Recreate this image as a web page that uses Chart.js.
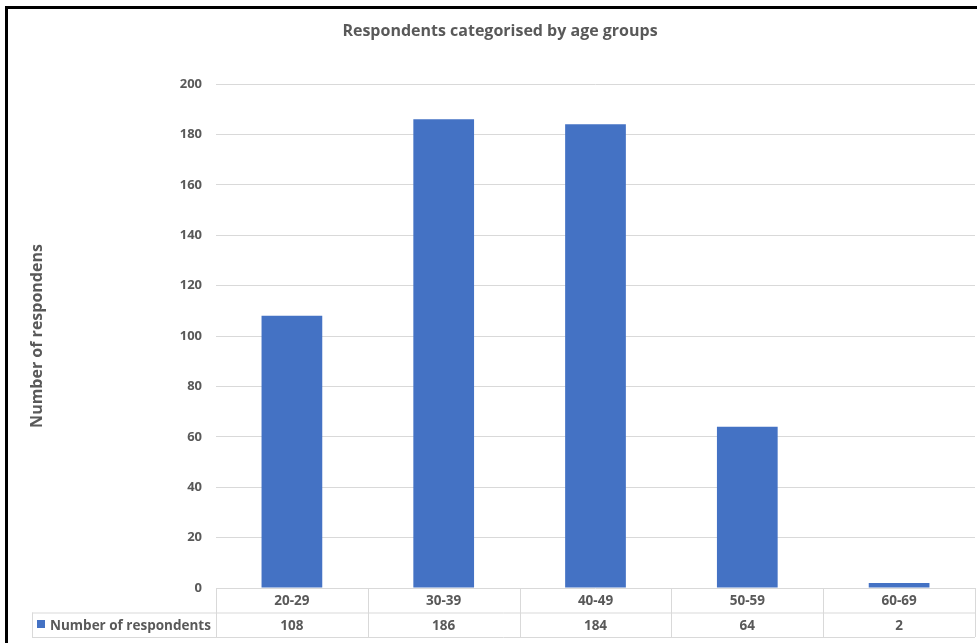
<!DOCTYPE html>
<html>
<head>
<meta charset="utf-8">
<script src="https://cdn.jsdelivr.net/npm/chart.js@4.4.0/dist/chart.umd.min.js"></script>
<style>
  html, body { margin: 0; padding: 0; background: #fff; }
  #wrap { width: 980px; height: 643px; position: relative; }
</style>
</head>
<body>
<div id="wrap"><canvas id="ageChart" width="980" height="643"></canvas></div>
<script>
'use strict';

// age groups and respondent counts
const ageGroups = ['20-29', '30-39', '40-49', '50-59', '60-69'];
const respondents = [108, 186, 184, 64, 2];
const seriesName = 'Number of respondents';
const yTicks = [0, 20, 40, 60, 80, 100, 120, 140, 160, 180, 200];

const textGrey = '#595959';
const lineGrey = '#d9d9d9';
const barBlue = '#4472c4';
const fontFamily = "'Open Sans', 'Liberation Sans', sans-serif";

// title + frame + the data table under the plot
const decorPlugin = {
    id: 'decor',
    afterDraw(chart) {
        const ctx = chart.ctx;
        const a = chart.chartArea;
        const n = ageGroups.length;
        const colW = (a.right - a.left) / n;
        const row1 = a.bottom;
        const row2 = row1 + 24.5;
        const row3 = row2 + 24.5;
        const legendLeft = 32;

        ctx.save();

        // chart title
        ctx.fillStyle = textGrey;
        ctx.font = 'bold 16px ' + fontFamily;
        ctx.textAlign = 'center';
        ctx.textBaseline = 'middle';
        ctx.fillText('Respondents categorised by age groups', 500, 31);

        // table lines
        ctx.strokeStyle = lineGrey;
        ctx.lineWidth = 1;
        ctx.beginPath();
        ctx.moveTo(legendLeft, row2 + 0.5);
        ctx.lineTo(a.right, row2 + 0.5);
        ctx.moveTo(legendLeft, row3 + 0.5);
        ctx.lineTo(a.right, row3 + 0.5);
        ctx.moveTo(legendLeft + 0.5, row2);
        ctx.lineTo(legendLeft + 0.5, row3);
        for (let i = 0; i <= n; i++) {
            const x = Math.round(a.left + i * colW) + 0.5;
            ctx.moveTo(x, row1);
            ctx.lineTo(x, row3);
        }
        ctx.stroke();

        // category and value cells
        ctx.fillStyle = textGrey;
        ctx.font = 'bold 13.5px ' + fontFamily;
        ctx.textAlign = 'center';
        const xs = chart.scales.x;
        ageGroups.forEach((g, i) => {
            const cx = xs.getPixelForValue(i);
            ctx.fillText(g, cx, (row1 + row2) / 2 + 1);
            ctx.fillText(String(respondents[i]), cx, (row2 + row3) / 2 + 1);
        });

        // legend key in the value row
        ctx.fillStyle = barBlue;
        ctx.fillRect(37, 620, 8, 8);
        ctx.fillStyle = textGrey;
        ctx.textAlign = 'left';
        ctx.fillText(seriesName, 50, (row2 + row3) / 2 + 1);

        // outer frame (left and top edges)
        ctx.fillStyle = '#000';
        ctx.fillRect(5, 6, 3, 637);
        ctx.fillRect(5, 6, 972, 3);

        ctx.restore();
    }
};

new Chart(document.getElementById('ageChart'), {
    type: 'bar',
    data: {
        labels: ageGroups,
        datasets: [{
            label: seriesName,
            data: respondents,
            backgroundColor: barBlue,
            borderWidth: 0,
            barPercentage: 0.4,
            categoryPercentage: 1
        }]
    },
    options: {
        responsive: false,
        animation: false,
        events: [],
        layout: {
            padding: { left: 24, right: 5, top: 84, bottom: 55 }
        },
        scales: {
            x: {
                display: false
            },
            y: {
                min: 0,
                max: 200,
                afterBuildTicks: (scale) => {
                    scale.ticks = yTicks.map(v => ({ value: v }));
                },
                afterFit: (scale) => {
                    scale.width = 192;
                },
                border: { display: false },
                grid: {
                    color: lineGrey,
                    drawTicks: false
                },
                ticks: {
                    color: textGrey,
                    padding: 14,
                    font: { family: fontFamily, size: 13, weight: 'bold' }
                },
                title: {
                    display: true,
                    text: 'Number of respondens',
                    color: textGrey,
                    padding: { top: 4, bottom: 0 },
                    font: { family: fontFamily, size: 16, weight: 'bold' }
                }
            }
        },
        plugins: {
            legend: { display: false },
            tooltip: { enabled: false }
        }
    },
    plugins: [decorPlugin]
});
</script>
</body>
</html>
